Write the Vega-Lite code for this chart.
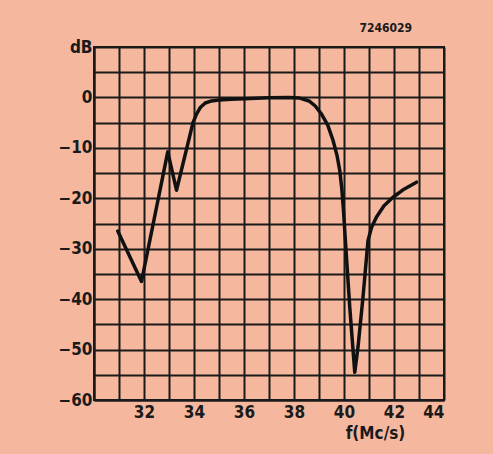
{
  "$schema": "https://vega.github.io/schema/vega-lite/v6.json",
  "autosize": "none",
  "width": 350,
  "height": 353,
  "padding": {"left": 94, "top": 47, "right": 49, "bottom": 54},
  "background": "#F5B89F",
  "title": {"text": "7246029", "anchor": "end", "dx": -32, "offset": 3, "fontSize": 12, "fontWeight": "bold", "font": "DejaVu Sans Condensed", "color": "#1a1a1a"},
  "config": {
    "view": {"stroke": "#1a1a1a", "strokeWidth": 2},
    "axis": {
      "domainColor": "#1a1a1a", "domainWidth": 2,
      "gridColor": "#1a1a1a", "gridWidth": 2, "gridOpacity": 1,
      "ticks": false,
      "labelFont": "DejaVu Sans Condensed", "labelFontSize": 17, "labelFontWeight": "bold", "labelColor": "#1a1a1a",
      "titleFont": "DejaVu Sans Condensed", "titleFontSize": 17, "titleFontWeight": "bold", "titleColor": "#1a1a1a"
    }
  },
  "data": {"values": [
    {"f": 30.95, "dB": -26.5},
    {"f": 31.9, "dB": -36.5},
    {"f": 32.95, "dB": -10.8},
    {"f": 33.3, "dB": -18.4},
    {"f": 33.96, "dB": -5},
    {"f": 34.1, "dB": -3.3},
    {"f": 34.25, "dB": -2},
    {"f": 34.45, "dB": -1.1},
    {"f": 34.7, "dB": -0.7},
    {"f": 35.0, "dB": -0.5},
    {"f": 35.5, "dB": -0.35},
    {"f": 36.0, "dB": -0.25},
    {"f": 37.0, "dB": -0.05},
    {"f": 37.8, "dB": 0},
    {"f": 38.2, "dB": -0.1},
    {"f": 38.6, "dB": -0.7},
    {"f": 38.85, "dB": -1.7},
    {"f": 39.1, "dB": -3.3},
    {"f": 39.35, "dB": -5.5},
    {"f": 39.56, "dB": -8.5},
    {"f": 39.72, "dB": -11.5},
    {"f": 39.83, "dB": -14.5},
    {"f": 39.91, "dB": -18},
    {"f": 39.98, "dB": -22.5},
    {"f": 40.09, "dB": -31},
    {"f": 40.23, "dB": -41.6},
    {"f": 40.43, "dB": -54.5},
    {"f": 40.56, "dB": -49.5},
    {"f": 40.76, "dB": -39.6},
    {"f": 40.96, "dB": -28.4},
    {"f": 41.1, "dB": -25.8},
    {"f": 41.3, "dB": -23.7},
    {"f": 41.6, "dB": -21.5},
    {"f": 41.96, "dB": -19.8},
    {"f": 42.4, "dB": -18.2},
    {"f": 42.9, "dB": -16.8}
  ]},
  "mark": {"type": "line", "color": "#111111", "strokeWidth": 3.5, "strokeCap": "round", "strokeJoin": "round", "clip": true},
  "encoding": {
    "x": {
      "field": "f", "type": "quantitative",
      "scale": {"domain": [30, 44], "nice": false, "zero": false},
      "axis": {
        "values": [30, 31, 32, 33, 34, 35, 36, 37, 38, 39, 40, 41, 42, 43, 44],
        "labelExpr": "datum.value >= 32 && datum.value % 2 == 0 ? datum.label : ''",
        "labelPadding": 4,
        "title": "f(Mc/s)",
        "titleX": 281, "titleY": 33, "titleAlign": "center", "titleBaseline": "middle"
      }
    },
    "y": {
      "field": "dB", "type": "quantitative",
      "scale": {"domain": [-60, 10], "nice": false, "zero": false},
      "axis": {
        "values": [-60, -55, -50, -45, -40, -35, -30, -25, -20, -15, -10, -5, 0, 5, 10],
        "labelExpr": "datum.value == 10 ? 'dB' : (datum.value % 10 == 0 ? datum.label : '')",
        "labelPadding": 2,
        "title": null
      }
    }
  }
}
